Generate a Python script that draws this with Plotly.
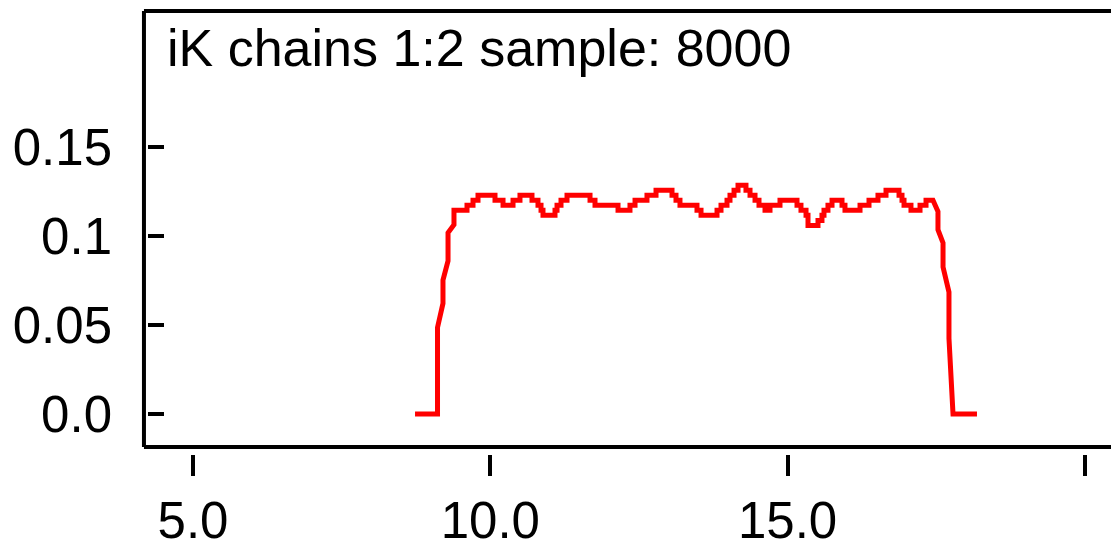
import plotly.graph_objects as go

# ---- data ----
title_text = "iK chains 1:2 sample: 8000"

# rising edge of the density (x, density)
rise_x = [8.734, 9.112, 9.112, 9.204, 9.204, 9.289, 9.289, 9.389]
rise_y = [0.0, 0.0, 0.0486, 0.0621, 0.0751, 0.0859, 0.1017, 0.1062]

# plateau: start of each flat step and its density level
step_x = [9.389, 9.608, 9.709, 9.793, 10.079, 10.214, 10.382, 10.499, 10.701, 10.802,
          10.853, 10.886, 11.088, 11.122, 11.189, 11.290, 11.677, 11.761, 12.148, 12.349,
          12.434, 12.635, 12.787, 13.056, 13.123, 13.190, 13.476, 13.544, 13.813, 13.880,
          13.981, 14.031, 14.099, 14.166, 14.300, 14.368, 14.452, 14.519, 14.620, 14.704,
          14.872, 15.158, 15.225, 15.310, 15.343, 15.511, 15.578, 15.612, 15.679, 15.747,
          15.915, 15.965, 16.218, 16.369, 16.520, 16.655, 16.874, 16.924, 16.958, 17.075,
          17.227, 17.328]
step_end = 17.445
step_y = [0.1143, 0.1171, 0.1199, 0.1228, 0.1199, 0.1171, 0.1199, 0.1228, 0.1199, 0.1171,
          0.1143, 0.1115, 0.1143, 0.1171, 0.1199, 0.1228, 0.1199, 0.1171, 0.1143, 0.1171,
          0.1199, 0.1228, 0.1256, 0.1228, 0.1199, 0.1171, 0.1143, 0.1115, 0.1143, 0.1171,
          0.1199, 0.1228, 0.1256, 0.1284, 0.1256, 0.1228, 0.1199, 0.1171, 0.1143, 0.1171,
          0.1199, 0.1171, 0.1143, 0.1115, 0.1058, 0.1086, 0.1115, 0.1143, 0.1171, 0.1199,
          0.1171, 0.1143, 0.1171, 0.1199, 0.1228, 0.1256, 0.1228, 0.1199, 0.1171, 0.1143,
          0.1171, 0.1199]

# falling edge of the density
fall_x = [17.529, 17.529, 17.614, 17.614, 17.714, 17.714, 17.782, 18.185]
fall_y = [0.1136, 0.1034, 0.0960, 0.0825, 0.0684, 0.0424, 0.0, 0.0]

x_tickvals = [5, 10, 15, 20]
x_ticktext = ["5.0", "10.0", "15.0", ""]
y_tickvals = [0.0, 0.05, 0.1, 0.15]
y_ticktext = ["0.0", "0.05", "0.1", "0.15"]

# ---- build the polyline from the readings ----
xs = list(rise_x)
ys = list(rise_y)
ends = step_x[1:] + [step_end]
for x0, x1, yv in zip(step_x, ends, step_y):
    xs += [x0, x1]
    ys += [yv, yv]
xs += fall_x
ys += fall_y

fig = go.Figure()
fig.add_trace(go.Scatter(x=xs, y=ys, mode="lines",
                         line=dict(color="#ff0000", width=5),
                         hoverinfo="skip", showlegend=False, cliponaxis=False))

font = "Liberation Sans, Arial, sans-serif"
frame = dict(color="black", width=4)
bottom_line = 0.0157   # frame line sits a little above the tick-bearing edge
left_line = -0.0042

fig.update_layout(
    width=1111, height=549,
    margin=dict(l=148, r=0, t=11, b=74, pad=0),
    paper_bgcolor="white", plot_bgcolor="white",
    showlegend=False,
    xaxis=dict(range=[4.243, 20.439], tickvals=x_tickvals, ticktext=x_ticktext,
               showgrid=False, zeroline=False, showline=False,
               ticks="outside", ticklen=21, tickwidth=4, tickcolor="black",
               tickfont=dict(family=font, size=51, color="black"),
               ticklabelstandoff=1),
    yaxis=dict(range=[-0.0224, 0.2261], tickvals=y_tickvals, ticktext=y_ticktext,
               showgrid=False, zeroline=False, showline=False,
               ticks="inside", ticklen=16, tickwidth=4, tickcolor="black",
               tickfont=dict(family=font, size=51, color="black"),
               ticklabelstandoff=35),
    shapes=[
        dict(type="line", xref="paper", yref="paper", x0=left_line, x1=left_line,
             y0=bottom_line, y1=1.0, line=frame),
        dict(type="line", xref="paper", yref="paper", x0=left_line, x1=1.0,
             y0=1.0, y1=1.0, line=frame),
        dict(type="line", xref="paper", yref="paper", x0=left_line, x1=1.0,
             y0=bottom_line, y1=bottom_line, line=frame),
    ],
    annotations=[dict(text=title_text, xref="paper", yref="paper",
                      x=(165 - 148) / 963, y=0.916,
                      xanchor="left", yanchor="middle", showarrow=False,
                      font=dict(family=font, size=52, color="black"))],
)

fig.write_html("out.html")
